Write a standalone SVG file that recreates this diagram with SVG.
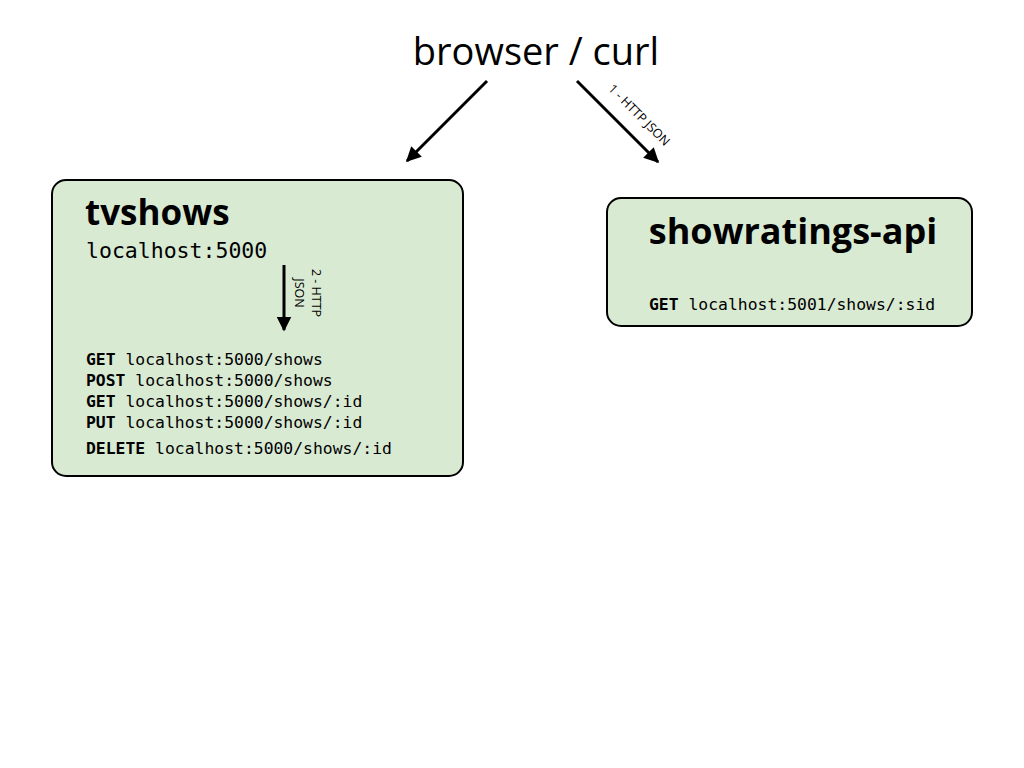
<svg xmlns="http://www.w3.org/2000/svg" width="1024" height="768" viewBox="0 0 1024 768">
<style>
.box{fill:#d9ead3;stroke:#000;stroke-width:2}
.title{font-family:"Open Sans","DejaVu Sans",sans-serif;font-weight:bold;fill:#000}
.mono{font-family:"DejaVu Sans Mono","Liberation Mono",monospace;fill:#000}
.b{font-weight:bold}
.lbl{font-family:"Open Sans","DejaVu Sans",sans-serif;font-size:12.5px;fill:#000}
.conn{stroke:#000;stroke-width:3;fill:none}
</style>
<defs>
<marker id="ah" viewBox="0 0 10 10" refX="9" refY="5" markerWidth="5" markerHeight="5" orient="auto" markerUnits="strokeWidth">
<path d="M0,0 L10,5 L0,10 z" fill="#000"/>
</marker>
</defs>
<rect width="1024" height="768" fill="#fff"/>
<g id="browser">
<text x="536" y="65" text-anchor="middle" font-family="'Open Sans','DejaVu Sans',sans-serif" font-size="38" fill="#000">browser / curl</text>
</g>
<g id="tvshows">
<rect class="box" x="52" y="180" width="411" height="296" rx="14"/>
<text class="title" x="85" y="225" font-size="35">tvshows</text>
<text class="mono" x="86" y="258" font-size="21.5">localhost:5000</text>
<text class="mono" font-size="16.4">
<tspan x="86" y="365"><tspan class="b">GET</tspan> localhost:5000/shows</tspan>
<tspan x="86" y="386"><tspan class="b">POST</tspan> localhost:5000/shows</tspan>
<tspan x="86" y="407"><tspan class="b">GET</tspan> localhost:5000/shows/:id</tspan>
<tspan x="86" y="428"><tspan class="b">PUT</tspan> localhost:5000/shows/:id</tspan>
<tspan x="86" y="454"><tspan class="b">DELETE</tspan> localhost:5000/shows/:id</tspan>
</text>
</g>
<g id="showratings-api">
<rect class="box" x="607" y="198" width="365" height="128" rx="14"/>
<text class="title" x="793" y="244" font-size="36" text-anchor="middle">showratings-api</text>
<text class="mono" x="649" y="310" font-size="16.4"><tspan class="b">GET</tspan> localhost:5001/shows/:sid</text>
</g>
<g id="connectors">
<line class="conn" x1="487" y1="81" x2="407" y2="161" marker-end="url(#ah)"/>
<line class="conn" x1="577" y1="81" x2="658" y2="162" marker-end="url(#ah)"/>
<text class="lbl" transform="translate(636,118) rotate(45)" text-anchor="middle">1 - HTTP JSON</text>
<line class="conn" x1="284" y1="265" x2="284" y2="330" marker-end="url(#ah)"/>
<text class="lbl" transform="translate(312,293) rotate(90)" text-anchor="middle"><tspan x="0" y="0">2 - HTTP</tspan><tspan x="0" y="17">JSON</tspan></text>
</g>
</svg>
